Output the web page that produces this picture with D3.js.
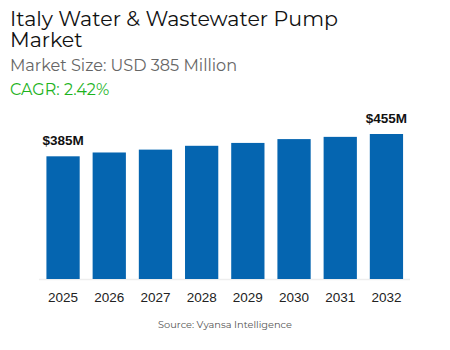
<!DOCTYPE html>
<html><head><meta charset="utf-8">
<script src="https://cdn.jsdelivr.net/npm/d3@7"></script>
<style>body{margin:0;background:#fff}svg{display:block}</style>
</head><body>
<svg id="c" width="450" height="350"></svg>
<script>
const years = ["2025","2026","2027","2028","2029","2030","2031","2032"];
const values = [385, 397, 406, 418, 427, 439, 446, 455];
const labelFirst = "$385M";
const labelLast = "$455M";
const title1 = "Italy Water & Wastewater Pump";
const title2 = "Market";
const subtitle = "Market Size: USD 385 Million";
const cagr = "CAGR: 2.42%";
const source = "Source: Vyansa Intelligence";

const svg = d3.select("#c");
const sans = "Montserrat, 'Open Sans', 'Noto Sans', sans-serif";
svg.append("text").attr("x",10).attr("y",25.5).attr("font-family",sans).attr("font-size",20.6).attr("fill","#111").text(title1);
svg.append("text").attr("x",10).attr("y",47).attr("font-family",sans).attr("font-size",20.6).attr("fill","#111").text(title2);
svg.append("text").attr("x",10).attr("y",70.5).attr("font-family",sans).attr("font-size",16.1).attr("fill","#666").text(subtitle);
svg.append("text").attr("x",10).attr("y",94.5).attr("font-family",sans).attr("font-size",16).attr("fill","#1db31d").text(cagr);

const x = d3.scaleBand().domain(years).range([39.5,410]).paddingInner(0.28).paddingOuter(0.15);
const y = d3.scaleLinear().domain([0,455]).range([279,134]);

svg.append("line").attr("x1",39).attr("x2",410).attr("y1",279.5).attr("y2",279.5).attr("stroke","#eee").attr("stroke-width",1.5);

svg.selectAll("rect.bar").data(values).join("rect").attr("class","bar")
  .attr("x",(d,i)=>x(years[i])).attr("width",x.bandwidth())
  .attr("y",d=>y(d)).attr("height",d=>y(0)-y(d)).attr("fill","#0565b0");

const lab = [[0,labelFirst],[values.length-1,labelLast]];
svg.selectAll("text.vl").data(lab).join("text").attr("class","vl")
  .attr("x",d=>x(years[d[0]])+x.bandwidth()/2).attr("y",d=>y(values[d[0]])-11)
  .attr("text-anchor","middle").attr("font-family","'Liberation Sans', Arial, sans-serif")
  .attr("font-weight","bold").attr("font-size",13.5).attr("fill","#111").text(d=>d[1]);

const ax = svg.append("g").attr("transform","translate(0,279)")
  .call(d3.axisBottom(x).tickSize(0).tickPadding(13));
ax.select(".domain").remove();
ax.selectAll("text").attr("font-family","'Liberation Sans', Arial, sans-serif").attr("font-size",13.5).attr("fill","#222");

svg.append("text").attr("x",225).attr("y",327.5).attr("text-anchor","middle").attr("font-family",sans).attr("font-size",9.8).attr("fill","#555").text(source);
</script>
</body></html>
